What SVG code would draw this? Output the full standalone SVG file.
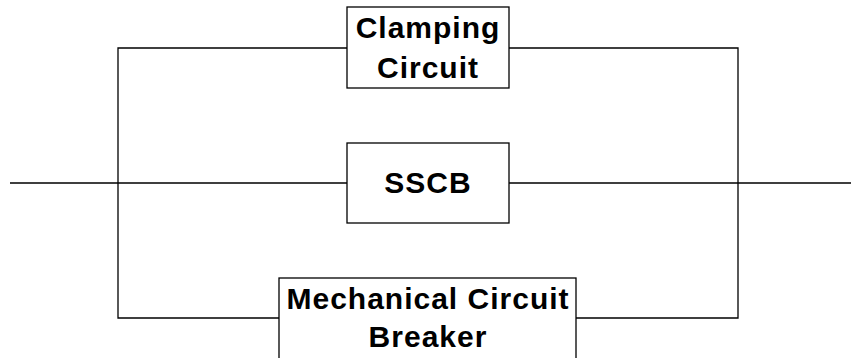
<svg xmlns="http://www.w3.org/2000/svg" width="851" height="358" viewBox="0 0 851 358">
<style>
.box{fill:#fff;stroke:#000;stroke-width:1.3}
.w{fill:none;stroke:#000;stroke-width:1.3}
text{font-family:"Liberation Sans",Arial,sans-serif;font-weight:bold;font-size:30px;letter-spacing:1px;text-anchor:middle;fill:#000}
</style>
<rect width="851" height="358" fill="#fff"/>
<g id="connectors">
<path class="w" d="M10,183 H347 M509,183 H851"/>
<path class="w" d="M347,48 H118 V318 H279"/>
<path class="w" d="M509,48 H738 V318 H576"/>
</g>
<g id="clamping">
<rect class="box" x="347" y="7" width="162" height="81"/>
<text x="428" y="38">Clamping</text>
<text x="428" y="78">Circuit</text>
</g>
<g id="sscb">
<rect class="box" x="347" y="143" width="162" height="80"/>
<text x="428" y="193">SSCB</text>
</g>
<g id="mcb">
<rect class="box" x="279" y="278" width="297" height="92"/>
<text x="428" y="309">Mechanical Circuit</text>
<text x="428" y="347">Breaker</text>
</g>
</svg>
